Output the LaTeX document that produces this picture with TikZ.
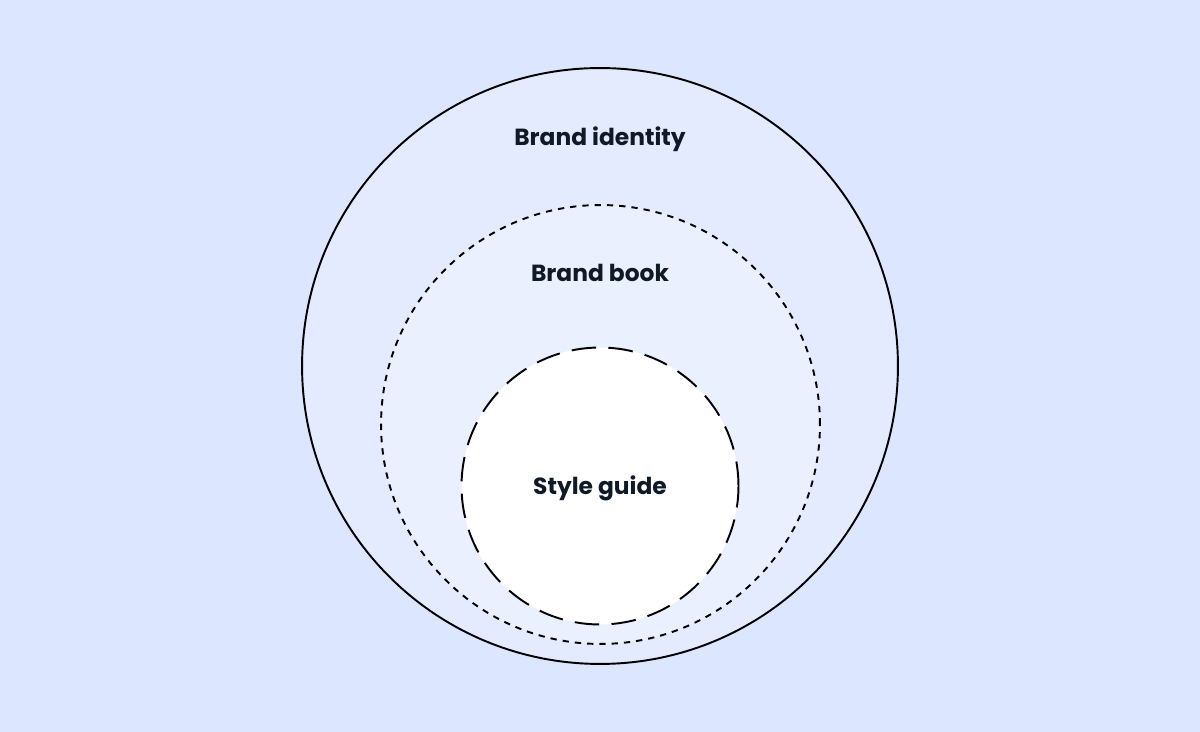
\documentclass[tikz,border=0pt]{standalone}
\usepackage{fontspec}
\setmainfont{Poppins}
\usepackage{xcolor}
\usetikzlibrary{positioning}
\definecolor{canvas}{HTML}{DCE6FE}
\definecolor{outerfill}{HTML}{E4EBFE}
\definecolor{midfill}{HTML}{EBF0FE}
\definecolor{inkdark}{HTML}{0F1A26}
\tikzset{
  ring/.style={circle, draw=black, line width=1.1pt, inner sep=0pt},
  tag/.style={font=\fontsize{13.3}{15}\selectfont\bfseries, text=inkdark}
}

\begin{document}
\begin{tikzpicture}[x=0.02cm, y=-0.02cm]
  \fill[canvas] (0,0) rectangle (1200,732);
  \useasboundingbox (0,0) rectangle (1200,732);
  % nested circles
  \node[ring, fill=outerfill, minimum size=11.92cm] (identity) at (600,366) {};
  \node[ring, fill=midfill, minimum size=8.78cm, dash pattern=on 3.6pt off 3.4pt] (book) at (600.5,424.5) {};
  \node[ring, fill=white, minimum size=5.54cm, dash pattern=on 14pt off 7pt] (guide) at (600,486) {};
  % labels
  \node[tag] (identitylabel) at (600,139) {Brand identity};
  \node[tag] (booklabel) at (600,273) {Brand book};
  \node[tag] (guidelabel) at (600,488) {Style guide};
\end{tikzpicture}
\end{document}
